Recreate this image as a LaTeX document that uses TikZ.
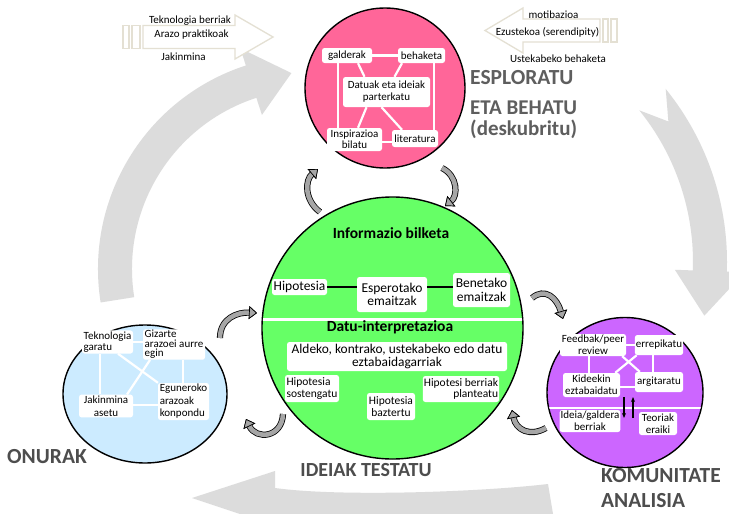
\documentclass[tikz,border=0pt]{standalone}
\usepackage{fontspec}
\setmainfont{Carlito}
\usetikzlibrary{arrows.meta,calc}
\definecolor{pinkc}{HTML}{FF6699}
\definecolor{greenc}{HTML}{66FF66}
\definecolor{bluec}{HTML}{CCEBFF}
\definecolor{purpc}{HTML}{CC66FF}
\definecolor{bgc}{HTML}{DCDCDC}
\definecolor{cgray}{HTML}{A6A6A6}
\definecolor{hdgray}{HTML}{4D4D4D}
\definecolor{hdlight}{HTML}{5E5E5E}
\definecolor{tangray}{HTML}{E4E0D3}
\begin{document}
\begin{tikzpicture}[x=1pt,y=-1pt,
  bx/.style={fill=white, rounded corners=2.5pt, inner sep=1pt, align=center, text=black},
  fs/.style={font=\fontsize{#1}{#1}\selectfont},
  wl/.style={white, line width=2.2pt},
  circ/.style={draw=black, line width=1.4pt},
  carr/.style={draw=cgray, line width=4.6pt, preaction={draw=black, line width=6.2pt},
     -{Triangle[length=8pt,width=13pt,fill=cgray,color=black,line width=0.7pt]}},
  hd/.style={text=hdgray, font=\fontsize{21.5}{22}\selectfont\bfseries, inner sep=0pt},
  tt/.style={font=\fontsize{11}{12}\selectfont, inner sep=0pt, text=black},
  harr/.style={draw=tangray, line width=1.3pt, fill=white, line join=miter},
  parr/.style={line width=1.1pt, -{Stealth[length=5pt,width=4pt]}},
]
\useasboundingbox (0,0) rectangle (729,514);
\fill[white] (0,0) rectangle (729,514);

% ---- background cycle bands
\coordinate (C1) at (312,269);
\fill[bgc] ($(C1)+(171:214)$) arc[start angle=171,end angle=252,radius=214]
  -- ($(C1)+(252:232)$) -- ($(C1)+(264:197)$) -- ($(C1)+(252:162)$)
  -- ($(C1)+(252:180)$) arc[start angle=252,end angle=171,radius=180] -- cycle;
\coordinate (C2) at (452,262);
\fill[bgc] ($(C2)+(-39:275)$) arc[start angle=-39,end angle=2,radius=275]
  -- ($(C2)+(2:293)$) -- ($(C2)+(12:258)$) -- ($(C2)+(2:223)$)
  -- ($(C2)+(2:241)$) arc[start angle=2,end angle=-39,radius=241]
  -- ($(C2)+(-33:258)$) -- cycle;
\fill[bgc] (553,514) -- (548,484) .. controls (480,492) and (340,497) .. (275,488)
  -- (275,471) -- (192,498) -- (240,514) -- cycle;

% ---- top hollow arrows
\draw[harr] (123,25.5) rectangle (129,48.5);
\draw[harr] (132,25.5) rectangle (140,48.5);
\draw[harr] (143,25.5) -- (235,25.5) -- (235,15) -- (273,37) -- (235,59) -- (235,48.5) -- (143,48.5) -- cycle;
\draw[harr] (603,19) rectangle (608,42);
\draw[harr] (611,19) rectangle (617,42);
\draw[harr] (600,19) -- (523,19) -- (523,8) -- (485,30.5) -- (523,53) -- (523,42) -- (600,42) -- cycle;
\node[tt] (t1) at (190,21) {Teknologia berriak};
\node[tt] (t2) at (191.5,35) {Arazo praktikoak};
\node[tt] (t3) at (183.5,57) {Jakinmina};
\node[tt] (t4) at (553.5,15) {motibazioa};
\node[tt] (t5) at (547.5,32) {Ezustekoa (serendipity)};
\node[tt] (t6) at (558,59) {Ustekabeko behaketa};

% ---- circles
\fill[pinkc, circ] (385,88) ellipse [x radius=80, y radius=80];
\fill[greenc, circ] (392.5,328) ellipse [x radius=130.5, y radius=131];
\fill[bluec, circ] (145,394) ellipse [x radius=82, y radius=69];
\fill[purpc, circ] (625,392.5) ellipse [x radius=78, y radius=75];
\begin{scope}
  \clip (392.5,328) ellipse [x radius=129.8, y radius=130.3];
  \draw[white, line width=3pt] (250,319) -- (540,319);
\end{scope}
\begin{scope}
  \clip (625,392.5) ellipse [x radius=77.3, y radius=74.3];
  \draw[white, line width=2.2pt] (540,408) -- (710,408);
\end{scope}

% ---- pink content
\node[bx,fs=11,minimum width=50,minimum height=15] (gald) at (347,55.5) {galderak};
\node[bx,fs=11,minimum width=47,minimum height=15] (beh) at (421.5,55.5) {behaketa};
\node[bx,fs=11,minimum width=87,minimum height=30] (dat) at (386.5,92) {Datuak eta ideiak\\[1pt]parterkatu};
\node[bx,fs=11,minimum width=55,minimum height=23] (insp) at (354.5,139.5) {Inspirazioa\\bilatu};
\node[bx,fs=11,minimum width=46,minimum height=17] (lit) at (415,138.5) {literatura};
\draw[wl] (gald) -- (beh);
\draw[wl] ($(gald.south)+(-9,0)$) -- ($(insp.north)+(-16.5,0)$);
\draw[wl] ($(beh.south)+(12.5,0)$) -- ($(lit.north)+(19,0)$);
\draw[wl] ($(insp.east)+(0,2.5)$) -- ($(lit.west)+(0,3.5)$);
\draw[wl] ($(gald.south)+(11,0)$) -- ($(dat.north)+(-22,0)$);
\draw[wl] ($(dat.south)+(-5,0)$) -- ($(lit.north)+(-13,0)$);
\draw[wl] ($(beh.south)+(-19.5,0)$) -- ($(dat.north)+(8,0)$);
\draw[wl] ($(dat.south)+(-20,0)$) -- ($(insp.north)+(3.5,0)$);

% ---- green content
\node[font=\fontsize{15.5}{16}\selectfont\bfseries, inner sep=0pt] (ib) at (391,233) {Informazio bilketa};
\node[bx,fs=13.5,minimum width=55,minimum height=16] (hip) at (299.5,287) {Hipotesia};
\node[bx,fs=13.5,minimum width=70,minimum height=35] (esp) at (392,294.5) {Esperotako\\emaitzak};
\node[bx,fs=13.5,minimum width=57,minimum height=34] (ben) at (481.5,290) {Benetako\\emaitzak};
\draw[line width=2.6pt] (hip.east) -- (hip.east -| esp.west);
\draw[line width=2.6pt] (esp.east |- hip.east) -- (ben.west |- hip.east);
\node[font=\fontsize{15.5}{16}\selectfont\bfseries, inner sep=0pt] (di) at (390,327) {Datu-interpretazioa};
\node[bx,fs=13.4,minimum width=220,minimum height=29] (ald) at (397,356.5) {Aldeko, kontrako, ustekabeko edo datu\\eztabaidagarriak};
\node[bx,fs=11.5,minimum width=54,minimum height=27,align=left] (hs) at (312,388.5) {Hipotesia\\sostengatu};
\node[bx,fs=11.5,minimum width=48,minimum height=27] (hb) at (391,406.5) {Hipotesia\\baztertu};
\node[bx,fs=11.5,minimum width=74,minimum height=26,align=right] (hn) at (461,389) {Hipotesi berriak\\planteatu};

% ---- blue content
\node[bx,minimum width=51,minimum height=22,align=left,font=\fontsize{11}{11.5}\selectfont] (tek) at (107.5,342) {Teknologia\\garatu};
\node[bx,minimum width=62,minimum height=27,align=left,font=\fontsize{11}{9.5}\selectfont] (giz) at (174,344.5) {Gizarte\\arazoei aurre\\egin};
\node[bx,minimum width=51,minimum height=37,align=left,font=\fontsize{11}{12.5}\selectfont] (egu) at (183.5,401.5) {Eguneroko\\arazoak\\konpondu};
\node[bx,minimum width=54,minimum height=22,font=\fontsize{11}{13}\selectfont] (jak) at (106,406) {Jakinmina\\asetu};
\draw[wl] (tek.east) -- (tek.east -| giz.west);
\draw[wl] ($(tek.south)+(-7.5,0)$) -- ($(jak.north)+(-6,0)$);
\draw[wl] ($(giz.south)+(9,0)$) -- ($(egu.north)+(-0.5,0)$);
\draw[wl] ($(jak.east)+(0,-1)$) -- ($(egu.west)+(0,3.5)$);
\draw[wl] ($(tek.south)+(10.5,0)$) -- ($(egu.north)+(-25.5,0)$);
\draw[wl] ($(giz.south)+(-24,0)$) -- ($(jak.north)+(21,0)$);

% ---- purple content
\node[bx,minimum width=66,minimum height=22,font=\fontsize{11}{11.7}\selectfont] (fb) at (593,345) {Feedbak/peer\\review};
\node[bx,minimum width=48,minimum height=20,font=\fontsize{11}{11}\selectfont] (err) at (659,345) {errepikatu};
\node[bx,minimum width=57,minimum height=24,font=\fontsize{11}{12}\selectfont] (kid) at (591.5,385) {Kideekin\\eztabaidatu};
\node[bx,minimum width=48,minimum height=20,font=\fontsize{11}{11}\selectfont] (arg) at (659,382) {argitaratu};
\node[bx,minimum width=60,minimum height=22,font=\fontsize{11}{12}\selectfont] (idg) at (590,421) {Ideia/galdera\\berriak};
\node[bx,minimum width=38,minimum height=23,font=\fontsize{11}{12}\selectfont] (teo) at (658,423.5) {Teoriak\\eraiki};
\draw[wl] (fb.east) -- (err.west);
\draw[wl] ($(fb.south)+(-4,0)$) -- ($(kid.north)+(-2.5,0)$);
\draw[wl] ($(err.south)+(-6,0)$) -- ($(arg.north)+(-6,0)$);
\draw[wl] ($(kid.east)+(0,2)$) -- ($(arg.west)+(0,5)$);
\draw[wl] ($(fb.south east)+(-4,0)$) -- ($(arg.north west)+(5,0)$);
\draw[wl] ($(err.south west)+(2,0)$) -- ($(kid.north east)+(-5,0)$);
\coordinate (pd1) at (624,397);
\coordinate (pd2) at (624,418);
\coordinate (pu1) at (633,418);
\coordinate (pu2) at (633,397);
\draw[parr] (pd1) -- (pd2);
\draw[parr] (pu1) -- (pu2);

% ---- headings
\node[hd, text=hdlight, anchor=west] (h1) at (470,78) {ESPLORATU};
\node[hd, text=hdlight, anchor=west, font=\fontsize{21}{21}\selectfont\bfseries] (h2) at (470,107.5) {ETA BEHATU};
\node[hd, text=hdlight, anchor=west, font=\fontsize{21}{21}\selectfont\bfseries] (h3) at (470,129) {(deskubritu)};
\node[hd, anchor=west] (h4) at (7,457) {ONURAK};
\node[hd, font=\fontsize{20}{21}\selectfont\bfseries] (h5) at (366,470) {IDEIAK TESTATU};
\node[hd, anchor=west] (h6) at (601,476) {KOMUNITATE};
\node[hd, anchor=west] (h7) at (601,501) {ANALISIA};

% ---- small curved arrows
\coordinate (a1s) at (320,212); \coordinate (a1e) at (318,169);
\draw[carr] (a1s) .. controls (304,200) and (305,180) .. (a1e);
\coordinate (a2s) at (442,168); \coordinate (a2e) at (445,206);
\draw[carr] (a2s) .. controls (458,176) and (458,196) .. (a2e);
\coordinate (a3s) at (532,298); \coordinate (a3e) at (563,319);
\draw[carr] (a3s) .. controls (545,287) and (557,298) .. (a3e);
\coordinate (a4s) at (546,428); \coordinate (a4e) at (512,410);
\draw[carr] (a4s) .. controls (530,437) and (516,430) .. (a4e);
\coordinate (a5s) at (283,414); \coordinate (a5e) at (246,419);
\draw[carr] (a5s) .. controls (282,438) and (256,440) .. (a5e);
\coordinate (a6s) at (220,338); \coordinate (a6e) at (257,313);
\draw[carr] (a6s) .. controls (220,318) and (238,312) .. (a6e);
\end{tikzpicture}
\end{document}
